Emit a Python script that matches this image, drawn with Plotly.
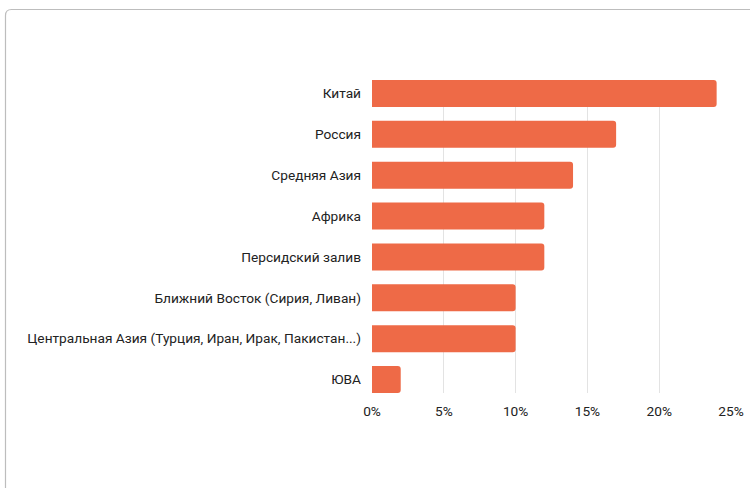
import plotly.graph_objects as go

categories = ["Китай", "Россия", "Средняя Азия", "Африка", "Персидский залив",
              "Ближний Восток (Сирия, Ливан)",
              "Центральная Азия (Турция, Иран, Ирак, Пакистан...)", "ЮВА"]
values = [24, 17, 14, 12, 12, 10, 10, 2]
x_ticks = [0, 5, 10, 15, 20, 25]
x_tick_labels = ["0%", "5%", "10%", "15%", "20%", "25%"]

fig = go.Figure(go.Bar(
    x=values, y=categories, orientation="h",
    marker=dict(color="#EE6A47", cornerradius=3, line=dict(width=0)),
    width=0.66,
))

W, H = 750, 488
L, R, T, B = 372, 19, 80, 95
pw, ph = W - L - R, H - T - B

def px(x):
    return (x - L) / pw

def py(y):
    return (H - B - y) / ph

r = 6
x0, y0 = px(5.5), py(9.5)
path = (f"M {x0},{py(520)} L {x0},{py(9.5 + r)} Q {x0},{y0} {px(5.5 + r)},{y0} "
        f"L {px(800)},{y0}")

fig.update_layout(
    width=W, height=H,
    margin=dict(l=L, r=R, t=T, b=B, autoexpand=False),
    paper_bgcolor="white", plot_bgcolor="white",
    font=dict(family="Roboto", size=13.7, color="#222222"),
    showlegend=False,
    xaxis=dict(range=[0, 25], tickmode="array", tickvals=x_ticks, ticktext=x_tick_labels,
               showgrid=True, gridcolor="#E3E3E3", gridwidth=1,
               zeroline=False, showline=False, ticks="", ticklabelstandoff=8,
               automargin=False, fixedrange=True),
    yaxis=dict(type="category", categoryorder="array", categoryarray=categories,
               range=[7.33, -0.33], showgrid=False, zeroline=False,
               ticks="", ticklabelstandoff=10, automargin=False, fixedrange=True),
    shapes=[dict(type="path", xref="paper", yref="paper", path=path,
                 line=dict(color="#BDBDBD", width=1.2), layer="above")],
)

fig.write_html("out.html")
